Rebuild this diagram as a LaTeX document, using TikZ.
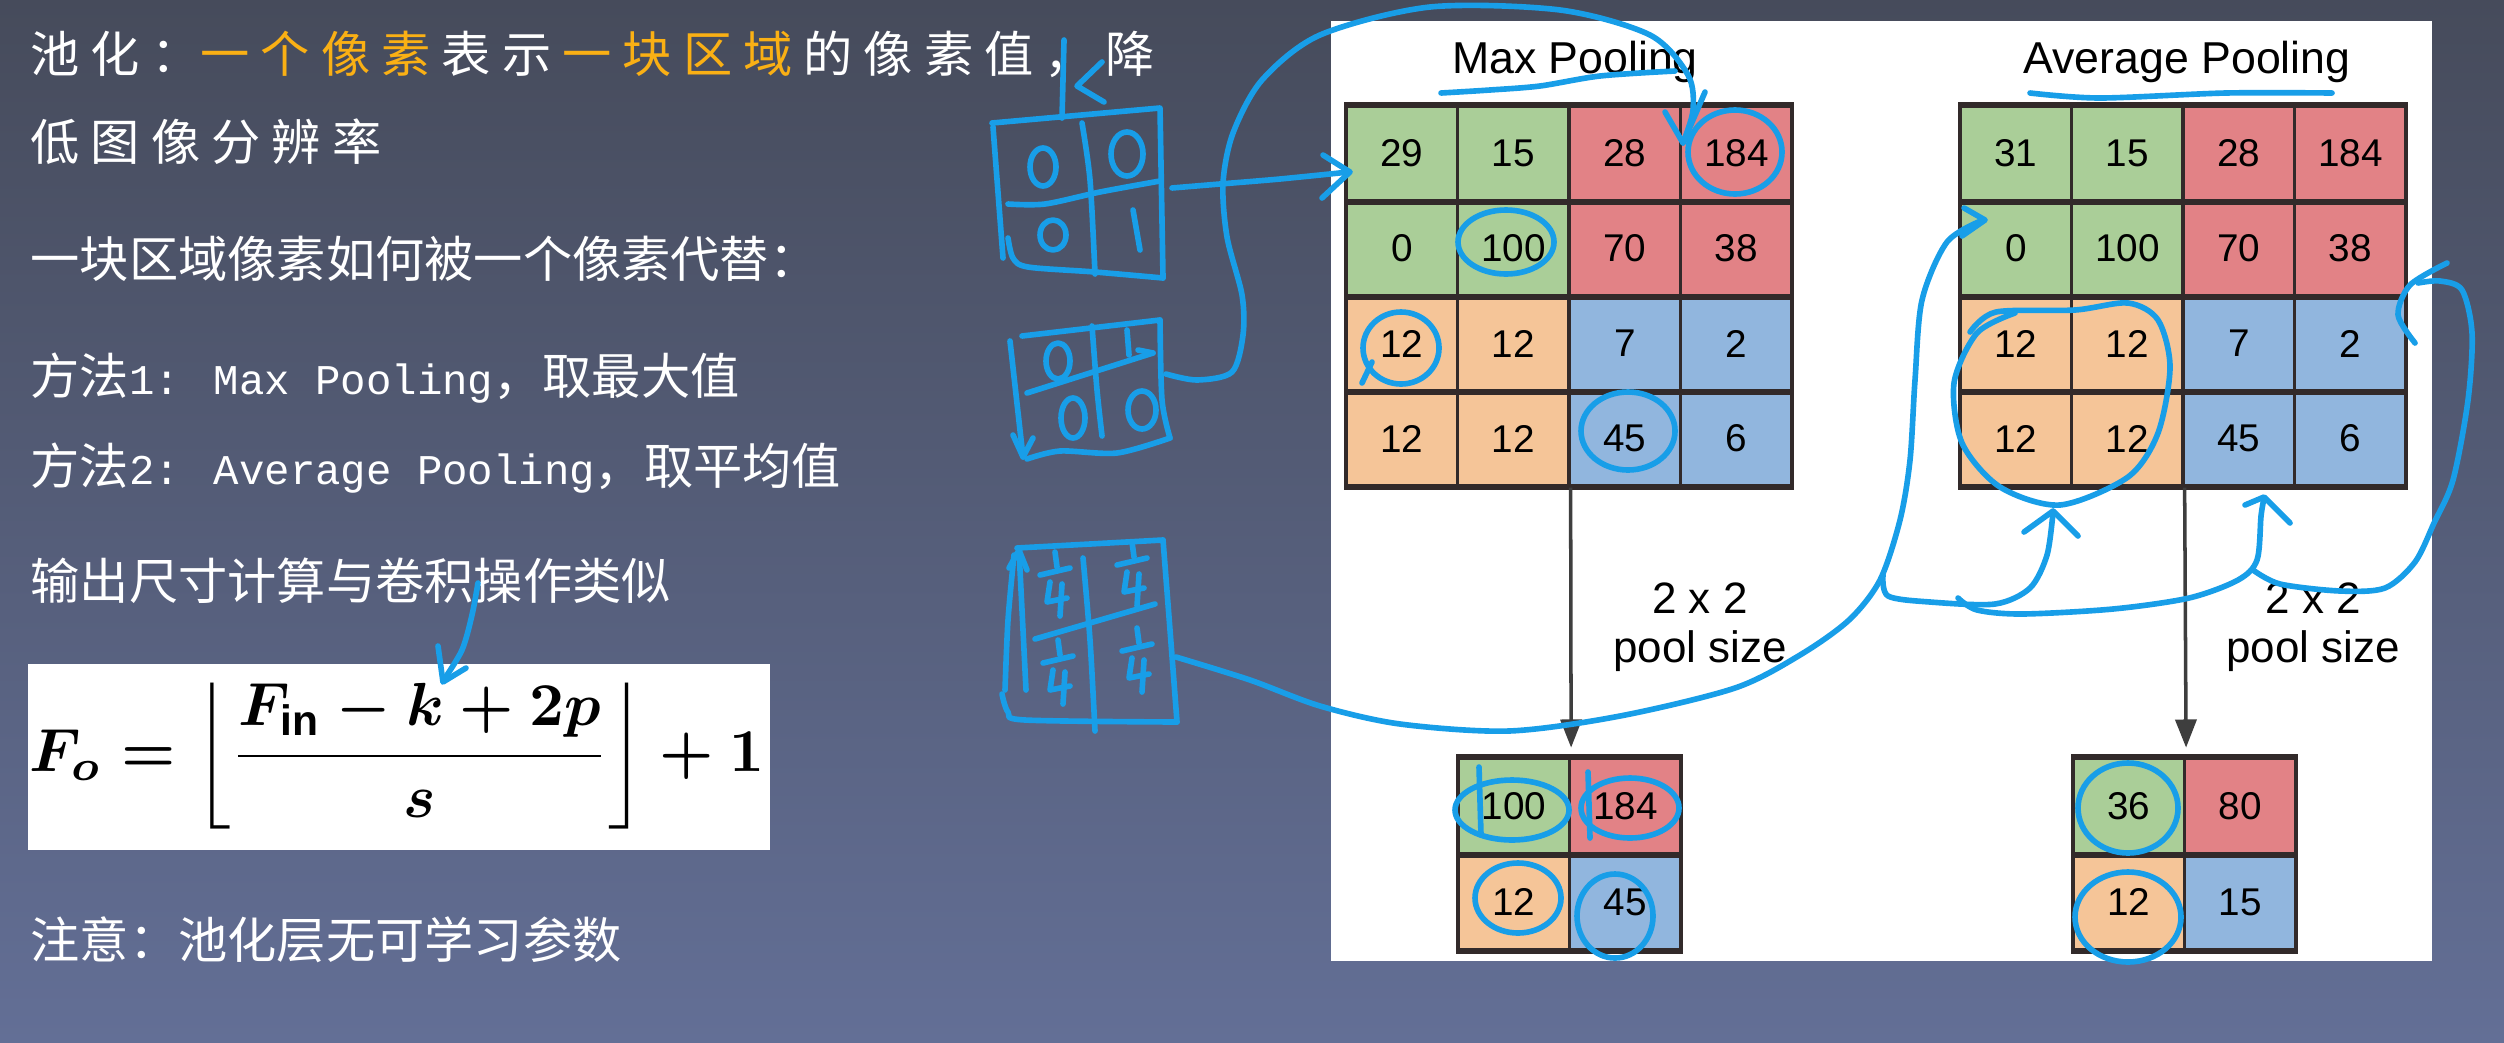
\documentclass[tikz,border=0pt]{standalone}
\usepackage{graphicx}
\usepackage{fontspec}
\setmainfont{Liberation Sans}
\newfontfamily\cjk{Noto Sans CJK SC}
\newfontfamily\cjkwide[LetterSpace=22.5]{Noto Sans CJK SC}
\newfontfamily\halfw[Scale=0.86]{Liberation Mono}
\usetikzlibrary{arrows.meta}

\definecolor{bgtop}{RGB}{70,75,91}
\definecolor{bgbot}{RGB}{99,111,150}
\definecolor{hiorange}{RGB}{250,176,20}
\definecolor{ink}{RGB}{24,158,232}
\definecolor{cellgreen}{RGB}{170,206,152}
\definecolor{cellred}{RGB}{226,130,134}
\definecolor{cellpeach}{RGB}{245,197,152}
\definecolor{cellblue}{RGB}{145,182,222}
\definecolor{gridline}{RGB}{50,42,42}
\definecolor{arrowgray}{RGB}{62,62,62}

\newcommand{\lsp}{\hspace{0.225em}}

\begin{document}
\begin{tikzpicture}[x=0.01cm,y=-0.01cm,
    slideline/.style={anchor=base west,inner sep=0pt,text=white,font=\cjk\fontsize{14}{16}\selectfont},
    wideline/.style={slideline,font=\cjkwide\fontsize{14}{16}\selectfont},
    cell/.style={draw=gridline,line width=0.9pt,minimum width=1.115cm,minimum height=0.95cm,inner sep=0pt,font=\fontsize{11}{13}\selectfont},
    outcell/.style={cell,minimum height=0.96cm},
    pooltitle/.style={font=\fontsize{12.7}{15}\selectfont,inner sep=0pt},
    poolsize/.style={font=\fontsize{12.5}{14}\selectfont,align=center,anchor=north,inner sep=0pt},
    poolarrow/.style={draw=arrowgray,line width=1pt,-{Triangle[length=8pt,width=6pt]},shorten >=2.5pt},
    pen/.style={draw=ink,line width=1.6pt,line cap=round,line join=round}]

    % Slide background
    \useasboundingbox (0,0) rectangle (2504,1042);
    \shade[top color=bgtop,bottom color=bgbot] (0,0) rectangle (2504,1042);

    % Left column text
    \node[wideline] (l1) at (30,72) {池化：\textcolor{hiorange}{一个像素}\lsp 表示\lsp\textcolor{hiorange}{一块区域}\lsp 的像素值，降};
    \node[wideline] (l2) at (30,160) {低图像分辨率};
    \node[slideline] (l3) at (30,277) {一块区域像素如何被一个像素代替：};
    \node[slideline] (l4) at (30,394) {方法{\halfw 1: Max Pooling}，取最大值};
    \node[slideline] (l5) at (30,484) {方法{\halfw 2: Average Pooling}，取平均值};
    \node[slideline] (l6) at (30,599) {输出尺寸计算与卷积操作类似};
    \node[slideline] (l7) at (30,958) {注意：池化层无可学习参数};

    % Output size formula
    \fill[white] (28,664) rectangle (770,850);
    \node[inner sep=0pt] (formula) at (397,756)
        {\resizebox*{7.35cm}{1.46cm}{\boldmath$\displaystyle F_o=\left\lfloor\frac{F_{\mathrm{in}}-k+2p}{s}\right\rfloor+1$}};

    % Pooling figure
    \fill[white] (1331,21) rectangle (2432,961);
    \node[pooltitle] (mxtitle) at (1575,62) {Max Pooling};
    \node[pooltitle] (avtitle) at (2187,62) {Average Pooling};

    \foreach \g/\xo/\first in {mx/1346/29,av/1960/31}
      \foreach \r/\lc/\rc/\vals in {1/cellgreen/cellred/{\first,15,28,184},2/cellgreen/cellred/{0,100,70,38},
                                    3/cellpeach/cellblue/{12,12,7,2},4/cellpeach/cellblue/{12,12,45,6}}
        \foreach \v [count=\c] in \vals {
          \ifnum\c<3 \def\fc{\lc}\else\def\fc{\rc}\fi
          \node[cell,fill=\fc] (\g-\r-\c) at ({\xo+111.5*(\c-0.5)},{106+95*(\r-0.5)}) {\v};
        }
    \foreach \g in {mx,av} {
      \draw[gridline,line width=1.6pt] (\g-1-1.north west) -- (\g-1-4.north east);
      \foreach \r in {1,...,4}
        \draw[gridline,line width=1.6pt] (\g-\r-1.south west) -- (\g-\r-4.south east);
    }

    \foreach \g/\xo/\va/\vb/\vc/\vd in {mo/1458/100/184/12/45,ao/2073/36/80/12/15} {
      \node[outcell,fill=cellgreen] (\g-1-1) at ({\xo+55.75},806) {\va};
      \node[outcell,fill=cellred] (\g-1-2) at ({\xo+167.25},806) {\vb};
      \node[outcell,fill=cellpeach] (\g-2-1) at ({\xo+55.75},902) {\vc};
      \node[outcell,fill=cellblue] (\g-2-2) at ({\xo+167.25},902) {\vd};
      \draw[gridline,line width=1.6pt] (\g-1-1.north west) -- (\g-1-2.north east);
      \draw[gridline,line width=1.6pt] (\g-1-1.south west) -- (\g-1-2.south east);
      \draw[gridline,line width=1.6pt] (\g-2-1.south west) -- (\g-2-2.south east);
    }

    \draw[poolarrow] (mx-4-2.south east) -- (mo-1-1.north east);
    \draw[poolarrow] (av-4-2.south east) -- (ao-1-1.north east);
    \node[poolsize] (mxsize) at (1700,582) {2 x 2\\pool size};
    \node[poolsize] (avsize) at (2313,582) {2 x 2\\pool size};

    % Hand notes: pointer from the comma
    \draw[pen] (1064,40) -- (1062,118);
    \draw[pen] (1102,62) -- (1077,86) -- (1104,102);

    % Hand notes: max pooling mask
    \draw[pen] (992,123) -- (1160,108) -- (1163,278);
    \draw[pen] (993,127) -- (1003,258);
    \draw[pen] plot[smooth] coordinates {(1008,238) (1013,258) (1028,267) (1095,272) (1163,278)};
    \draw[pen] plot[smooth] coordinates {(1082,123) (1090,180) (1095,274)};
    \draw[pen] plot[smooth] coordinates {(1008,204) (1045,204) (1100,192) (1160,181)};
    \draw[pen] (1043,167) ellipse [x radius=13, y radius=19];
    \draw[pen] (1127,154) ellipse [x radius=16, y radius=22];
    \draw[pen] (1053,235) ellipse [x radius=13, y radius=15];
    \draw[pen] (1133,210) -- (1140,250);

    % Hand notes: second mask
    \draw[pen] (1022,336) -- (1160,320);
    \draw[pen] (1010,341) -- (1023,457);
    \draw[pen] (1013,435) -- (1023,457) -- (1033,438);
    \draw[pen] plot[smooth] coordinates {(1160,320) (1162,400) (1170,438)};
    \draw[pen] plot[smooth] coordinates {(1027,459) (1060,451) (1117,453) (1170,438)};
    \draw[pen] plot[smooth] coordinates {(1092,326) (1097,390) (1102,436)};
    \draw[pen] (1027,393) -- (1153,353);
    \draw[pen] (1138,350) -- (1153,353);
    \draw[pen] (1058,361) ellipse [x radius=12, y radius=18];
    \draw[pen] (1127,330) -- (1129,355);
    \draw[pen] (1073,418) ellipse [x radius=12, y radius=20];
    \draw[pen] (1142,410) ellipse [x radius=14, y radius=19];

    % Hand notes: average mask
    \draw[pen] (1017,548) -- (1163,540);
    \draw[pen] plot[smooth] coordinates {(1163,540) (1170,630) (1177,722)};
    \draw[pen] (1019,550) -- (1026,690);
    \draw[pen] plot[smooth] coordinates {(1014,555) (1008,620) (1005,690)};
    \draw[pen] (1009,568) -- (1019,550) -- (1027,570);
    \draw[pen] plot[smooth] coordinates {(1002,694) (1008,712) (1025,720) (1177,722)};
    \draw[pen] plot[smooth] coordinates {(1083,558) (1090,640) (1095,731)};
    \draw[pen] (1035,639) -- (1155,604);
    \foreach \cx/\cy in {1055/572,1132/562,1058/660,1137/648} {
      \draw[pen] ({\cx},{\cy-20}) -- ({\cx+2},{\cy-5});
      \draw[pen] ({\cx-15},{\cy+3}) -- ({\cx+15},{\cy-4});
      \draw[pen] ({\cx-5},{\cy+10}) -- ({\cx-8},{\cy+30}) -- ({\cx+12},{\cy+26});
      \draw[pen] ({\cx+7},{\cy+12}) -- ({\cx+5},{\cy+44});
    }

    % Hand notes: connectors
    \draw[pen] plot[smooth] coordinates {(1172,188) (1220,184) (1280,179) (1349,172)};
    \draw[pen] (1323,155) -- (1350,172) -- (1322,198);
    \draw[pen] plot[smooth] coordinates {(1166,374) (1197,380) (1232,372) (1243,335) (1242,295) (1227,237)
        (1223,183) (1233,133) (1262,80) (1320,35) (1430,7) (1560,10) (1650,35) (1688,75) (1693,110) (1683,143)};
    \draw[pen] (1665,112) -- (1683,143) -- (1705,92);
    \draw[pen] plot[smooth] coordinates {(1176,657) (1250,680) (1320,706) (1400,724) (1509,731) (1620,716)
        (1735,688) (1800,655) (1849,620) (1880,580) (1900,520) (1910,460) (1915,380) (1922,300) (1947,242) (1983,220)};
    \draw[pen] (1964,208) -- (1985,220) -- (1962,236);
    \draw[pen] plot[smooth] coordinates {(1883,575) (1888,596) (1930,602) (1995,604) (2030,588) (2047,555) (2053,512)};
    \draw[pen] (2024,532) -- (2053,511) -- (2078,536);
    \draw[pen] plot[smooth] coordinates {(1958,598) (1977,610) (2022,614) (2113,609) (2189,598) (2238,580)
        (2257,560) (2261,516) (2264,498)};
    \draw[pen] (2245,505) -- (2264,497) -- (2290,523);
    \draw[pen] plot[smooth] coordinates {(2253,570) (2280,584) (2340,591) (2385,588) (2415,562) (2434,523)
        (2453,480) (2468,400) (2472,333) (2462,290) (2440,281) (2418,283)};
    \draw[pen] plot[smooth] coordinates {(2447,263) (2410,285) (2398,315) (2415,343)};

    % Hand notes: underlines and circles
    \draw[pen] plot[smooth] coordinates {(1441,93) (1490,90) (1540,86) (1600,76) (1675,71)};
    \draw[pen] plot[smooth] coordinates {(2030,93) (2100,98) (2226,93) (2332,93)};
    \draw[pen] (1735,152) ellipse [x radius=47, y radius=42];
    \draw[pen] (1506,242) ellipse [x radius=48, y radius=32];
    \draw[pen] (1401,348) ellipse [x radius=38, y radius=36];
    \draw[pen] (1362,383) -- (1372,362);
    \draw[pen] (1628,431) ellipse [x radius=47, y radius=39];
    \draw[pen] plot[smooth] coordinates {(1970,332) (1996,312) (2075,310) (2128,303) (2158,320) (2170,367)
        (2158,433) (2128,477) (2060,505) (2000,487) (1962,443) (1954,383) (1977,333) (2015,313)};
    \draw[pen] (1512,810) ellipse [x radius=57, y radius=30];
    \draw[pen] (1479,767) -- (1481,835);
    \draw[pen] (1630,808) ellipse [x radius=49, y radius=30];
    \draw[pen] (1588,772) -- (1590,838);
    \draw[pen] (1518,898) ellipse [x radius=43, y radius=35];
    \draw[pen] (1615,916) ellipse [x radius=38, y radius=42];
    \draw[pen] (2128,808) ellipse [x radius=50, y radius=45];
    \draw[pen] (2128,917) ellipse [x radius=53, y radius=45];

    % Hand notes: pointer to k
    \draw[pen] plot[smooth] coordinates {(478,583) (472,615) (462,650) (443,681)};
    \draw[pen] (438,646) -- (443,682) -- (466,668);
\end{tikzpicture}
\end{document}
